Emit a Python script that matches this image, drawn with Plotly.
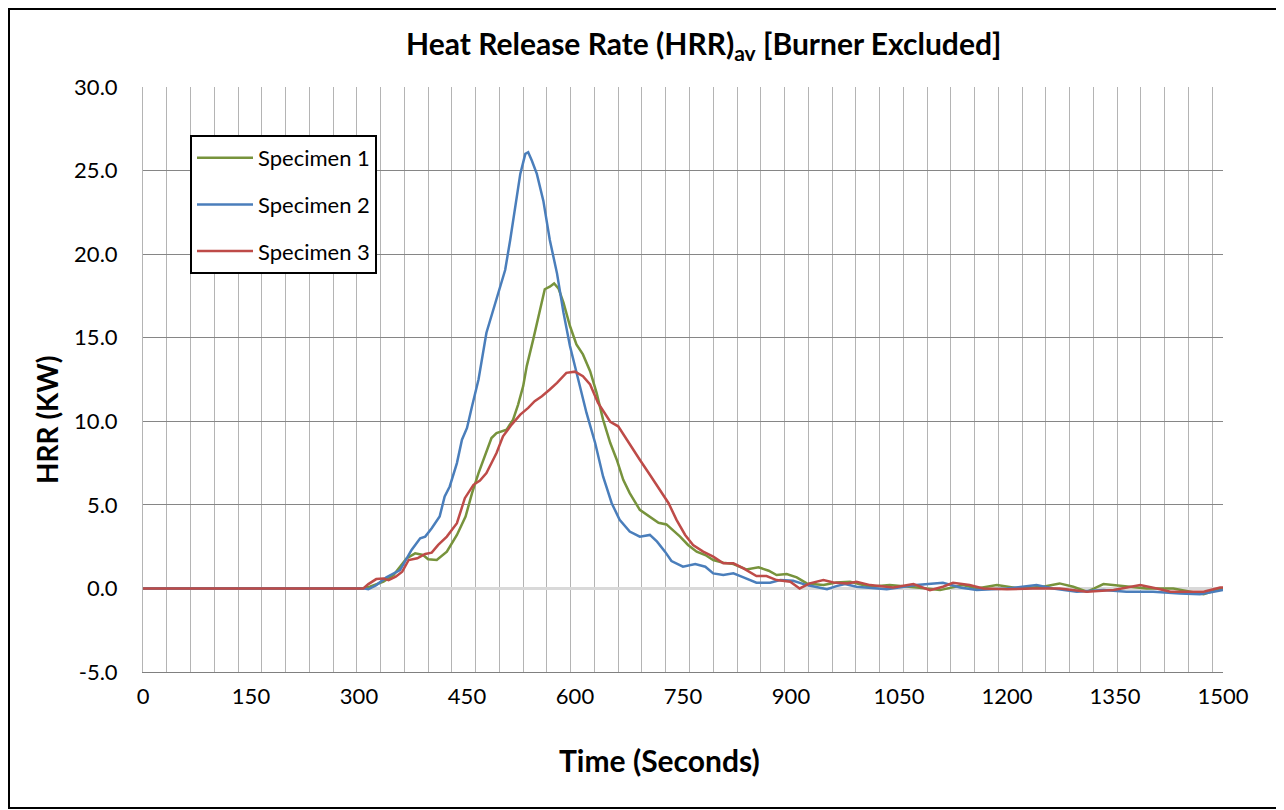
import plotly.graph_objects as go

# ---- data ----
t_s1 = [0, 305, 315, 334, 348, 357, 366, 378, 389, 396, 408, 422, 436, 448, 457, 466, 476, 484, 491, 505,
        514, 521, 528, 533, 542, 551, 558, 565, 571, 577, 584, 593, 602, 611, 621, 630, 639, 649, 658, 667,
        676, 690, 706, 716, 727, 736, 746, 757, 769, 781, 792, 806, 820, 838, 855, 869, 880, 894, 908, 922,
        945, 963, 982, 1010, 1037, 1075, 1107, 1139, 1158, 1186, 1218, 1250, 1273, 1292, 1311, 1334, 1366,
        1394, 1431, 1473, 1491, 1500]
hrr_s1 = [0, 0, 0.1, 0.4, 0.8, 1.3, 1.8, 2.1, 2.0, 1.75, 1.7, 2.2, 3.2, 4.3, 5.7, 6.9, 8.1, 9.0, 9.3, 9.5,
          10.1, 11.0, 12.1, 13.3, 14.9, 16.5, 17.9, 18.05, 18.25, 17.95, 17.1, 15.7, 14.6, 14.0, 13.0, 11.7,
          10.1, 8.7, 7.7, 6.5, 5.7, 4.7, 4.2, 3.93, 3.83, 3.5, 3.1, 2.6, 2.2, 2.0, 1.7, 1.54, 1.46, 1.14, 1.26,
          1.06, 0.8, 0.86, 0.66, 0.3, 0.2, 0.35, 0.4, 0.1, 0.2, 0.06, -0.1, 0.2, 0.0, 0.2, 0.0, 0.1, 0.3, 0.1,
          -0.2, 0.26, 0.1, 0.0, 0.0, -0.35, -0.1, 0.0]

t_s2 = [0, 308, 313, 324, 338, 357, 373, 385, 392, 401, 412, 419, 426, 436, 443, 450, 457, 466, 477, 491,
        503, 510, 517, 524, 531, 535, 540, 547, 556, 565, 575, 584, 593, 602, 607, 611, 616, 628, 639, 651,
        662, 676, 690, 704, 714, 725, 734, 750, 767, 781, 792, 806, 820, 834, 852, 871, 885, 903, 922, 950,
        963, 975, 991, 1033, 1074, 1111, 1135, 1158, 1200, 1241, 1264, 1297, 1334, 1366, 1403, 1440, 1468,
        1487, 1500]
hrr_s2 = [0, 0, -0.05, 0.2, 0.66, 1.1, 2.3, 3.0, 3.1, 3.6, 4.3, 5.5, 6.1, 7.5, 8.9, 9.6, 10.9, 12.5, 15.3,
          17.3, 19.05, 20.85, 22.8, 24.8, 26.0, 26.1, 25.6, 24.8, 23.2, 20.85, 18.85, 16.5, 14.5, 12.9, 12.1,
          11.3, 10.5, 8.7, 6.7, 5.1, 4.1, 3.4, 3.1, 3.2, 2.8, 2.2, 1.64, 1.3, 1.46, 1.3, 0.9, 0.8, 0.9, 0.66,
          0.34, 0.34, 0.5, 0.46, 0.2, -0.05, 0.14, 0.26, 0.1, -0.05, 0.2, 0.34, 0.06, -0.1, 0.0, 0.2, 0.0,
          -0.2, -0.1, -0.2, -0.2, -0.3, -0.35, -0.2, -0.1]

t_s3 = [0, 306, 313, 324, 334, 341, 351, 360, 369, 381, 392, 401, 410, 422, 436, 447, 459, 468, 477, 491,
        500, 512, 524, 535, 544, 554, 565, 575, 588, 600, 611, 621, 632, 649, 660, 676, 690, 704, 718, 730,
        741, 753, 764, 778, 792, 806, 820, 834, 852, 866, 880, 899, 912, 926, 945, 959, 978, 991, 1010, 1042,
        1070, 1093, 1111, 1125, 1148, 1167, 1200, 1236, 1273, 1311, 1348, 1385, 1408, 1427, 1450, 1473,
        1496, 1500]
hrr_s3 = [0, 0, 0.26, 0.56, 0.6, 0.5, 0.7, 1.0, 1.7, 1.8, 2.06, 2.14, 2.6, 3.1, 3.9, 5.4, 6.2, 6.45, 6.9,
          8.1, 9.1, 9.8, 10.4, 10.8, 11.2, 11.5, 11.9, 12.3, 12.9, 12.97, 12.7, 12.2, 11.1, 9.97, 9.7, 8.6,
          7.7, 6.8, 5.9, 5.1, 4.1, 3.2, 2.6, 2.2, 1.9, 1.5, 1.5, 1.2, 0.74, 0.74, 0.5, 0.4, 0.0, 0.3, 0.5,
          0.35, 0.3, 0.4, 0.2, 0.06, 0.26, -0.1, 0.1, 0.34, 0.2, 0.0, -0.05, 0.0, 0.0, -0.2, -0.1, 0.2, 0.0,
          -0.2, -0.2, -0.2, 0.05, 0.05]

series_names = ["Specimen 1", "Specimen 2", "Specimen 3"]
series_colors = ["#77933C", "#4A7EBB", "#BE4B48"]
x_tick_vals = [0, 150, 300, 450, 600, 750, 900, 1050, 1200, 1350, 1500]
y_tick_vals = [-5, 0, 5, 10, 15, 20, 25, 30]
y_tick_text = ["-5.0", "0.0", "5.0", "10.0", "15.0", "20.0", "25.0", "30.0"]

assert len(t_s1) == len(hrr_s1) and len(t_s2) == len(hrr_s2) and len(t_s3) == len(hrr_s3)

FONT = "Lato, 'Open Sans', sans-serif"

fig = go.Figure()
for name, col, tx, vy in zip(series_names, series_colors, [t_s1, t_s2, t_s3], [hrr_s1, hrr_s2, hrr_s3]):
    fig.add_trace(go.Scatter(x=tx, y=vy, mode="lines", name=name, legendgroup=name,
                             line=dict(color=col, width=2.5)))

OFF = 8  # page body margin
W, H = 1274, 802
# plot area in page pixels
L, R, T, B = 143, 1223, 87, 672
def px(x):
    return (x - L) / (R - L)
def py(y):
    return (B - y) / (B - T)

fig.update_layout(
    width=W, height=H,
    margin=dict(l=L - OFF, r=W - (R - OFF), t=T - OFF, b=H - (B - OFF)),
    paper_bgcolor="white", plot_bgcolor="white",
    font=dict(family=FONT, color="black", size=22),
    showlegend=True,
    legend=dict(x=px(190), y=py(135), xanchor="left", yanchor="top",
                bordercolor="black", borderwidth=2, bgcolor="white",
                font=dict(size=22, family=FONT), itemwidth=56, tracegroupgap=15),
    xaxis=dict(range=[0, 1500], tickvals=x_tick_vals, showgrid=False, zeroline=False,
               showline=True, linecolor="#808080", linewidth=1, ticks="",
               tickfont=dict(size=22), ticklabelstandoff=5,
               minor=dict(tick0=0, dtick=33, showgrid=True, gridcolor="#b4b4b4", gridwidth=1, ticks="")),
    yaxis=dict(range=[-5, 30], tickvals=y_tick_vals, ticktext=y_tick_text, showgrid=True,
               gridcolor="#868686", gridwidth=1, zeroline=True, zerolinecolor="#d9d9d9", zerolinewidth=3,
               showline=True, linecolor="#b4b4b4", ticks="", tickfont=dict(size=22),
               ticklabelstandoff=20),
    annotations=[
        dict(text="<b>Heat Release Rate (HRR)<sub>av</sub> [Burner Excluded]</b>", x=px(703), y=py(45),
             xref="paper", yref="paper", showarrow=False, font=dict(size=30, family=FONT),
             xanchor="center", yanchor="middle"),
        dict(text="<b>HRR (KW)</b>", x=px(47), y=py(420), xref="paper", yref="paper", showarrow=False,
             textangle=-90, font=dict(size=28, family=FONT), xanchor="center", yanchor="middle"),
        dict(text="<b>Time (Seconds)</b>", x=px(659), y=py(760), xref="paper", yref="paper",
             showarrow=False, font=dict(size=30, family=FONT), xanchor="center", yanchor="middle"),
    ],
    shapes=[dict(type="rect", xref="paper", yref="paper", x0=px(9), x1=px(1280), y0=py(808), y1=py(9),
                 line=dict(color="black", width=2), fillcolor="rgba(0,0,0,0)", layer="below")],
)

fig.write_html("out.html")
